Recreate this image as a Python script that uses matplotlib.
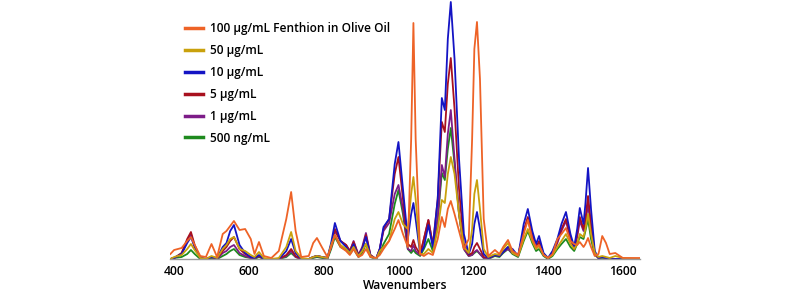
import numpy as np
import matplotlib
matplotlib.use("Agg")
import matplotlib.pyplot as plt

# wavenumber grid the spectra were read on
wavenumbers = [390, 400, 420, 435, 445, 455, 470, 485, 500, 515, 530, 540, 550, 560, 575,
               590, 605, 615, 627, 640, 660, 680, 700, 713, 725, 740, 760, 772, 782, 795,
               810, 820, 830, 845, 860, 870, 880, 893, 903, 913, 925, 940, 950, 960, 975,
               990, 1000, 1012, 1025, 1034, 1040, 1046, 1058, 1068, 1080, 1092, 1105, 1116,
               1124, 1132, 1140, 1150, 1162, 1175, 1188, 1197, 1203, 1210, 1218, 1228, 1240,
               1258, 1270, 1280, 1293, 1305, 1320, 1335, 1346, 1358, 1368, 1376, 1388, 1400,
               1412, 1425, 1436, 1448, 1460, 1470, 1478, 1485, 1495, 1500, 1507, 1515, 1525,
               1535, 1545, 1555, 1565, 1580, 1600, 1650]

# intensities (arbitrary units)
int_100ug = [5, 9, 11, 18, 22, 14, 3, 2, 15, 2, 25, 28, 33, 38, 29,
             30, 20, 5, 17, 3, 1, 8, 40, 67, 28, 2, 3, 16, 21, 12,
             2, 12, 24, 12, 8, 4, 10, 2, 4, 10, 2, 1, 4, 10, 18,
             30, 39, 25, 12, 120, 236, 120, 5, 3, 6, 4, 20, 42,
             32, 50, 58, 45, 28, 10, 20, 120, 210, 237, 180, 40, 3,
             9, 5, 12, 19, 8, 4, 25, 39, 20, 12, 14, 4, 1,
             5, 20, 25, 31, 18, 15, 14, 17, 12, 15, 21, 12, 3,
             5, 23, 16, 5, 6, 1, 1]
int_50ug = [0, 2, 4, 10, 15, 9, 1, 0, 3, 1, 10, 14, 20, 22, 10,
            8, 4, 2, 7, 1, 0, 1, 12, 27, 8, 1, 0, 2, 3, 2,
            1, 14, 24, 14, 10, 6, 12, 3, 8, 15, 3, 0, 8, 12, 18,
            40, 47, 35, 30, 65, 82, 60, 5, 5, 10, 6, 30, 59,
            56, 85, 102, 85, 45, 12, 6, 30, 65, 79, 50, 10, 2,
            5, 4, 10, 16, 6, 3, 20, 30, 18, 10, 13, 4, 1,
            4, 12, 18, 25, 15, 10, 15, 25, 22, 30, 45, 25, 6,
            2, 3, 2, 1, 3, 1, 0]
int_10ug = [0, 1, 5, 16, 22, 12, 1, 0, 2, 1, 12, 16, 28, 34, 14,
            6, 2, 1, 4, 0, 0, 0, 8, 20, 6, 0, 0, 2, 3, 2,
            1, 16, 36, 18, 12, 6, 15, 3, 10, 22, 3, 0, 10, 32, 40,
            95, 117, 70, 20, 45, 56, 40, 5, 12, 34, 12, 60, 161,
            149, 220, 257, 200, 100, 25, 5, 15, 35, 47, 30, 5, 1,
            4, 3, 7, 12, 10, 3, 35, 50, 28, 15, 23, 6, 1,
            8, 20, 35, 47, 25, 12, 30, 51, 35, 55, 91, 50, 8,
            1, 2, 1, 0, 0, 0, 0]
int_5ug = [0, 1, 6, 20, 27, 14, 1, 0, 2, 1, 8, 12, 18, 22, 10,
           5, 2, 1, 3, 0, 0, 0, 4, 10, 3, 0, 0, 2, 3, 2,
           1, 14, 30, 18, 14, 8, 17, 4, 10, 24, 4, 0, 10, 30, 40,
           85, 102, 60, 15, 12, 19, 12, 5, 20, 39, 14, 60, 137,
           127, 175, 201, 150, 70, 15, 4, 6, 12, 16, 10, 2, 1,
           4, 3, 7, 12, 8, 3, 28, 42, 25, 12, 18, 5, 1,
           6, 18, 30, 40, 22, 10, 25, 42, 30, 40, 63, 35, 6,
           1, 2, 1, 0, 0, 0, 0]
int_1ug = [0, 1, 5, 18, 25, 12, 1, 0, 2, 0, 6, 8, 12, 14, 6,
           3, 1, 1, 3, 0, 0, 0, 3, 8, 2, 0, 0, 2, 3, 2,
           1, 12, 28, 18, 14, 8, 18, 4, 12, 26, 4, 0, 10, 28, 36,
           65, 74, 50, 10, 8, 14, 8, 4, 20, 39, 14, 40, 94,
           82, 125, 149, 100, 45, 10, 3, 4, 7, 9, 5, 1, 0,
           4, 3, 7, 10, 6, 3, 28, 40, 22, 10, 17, 4, 1,
           5, 16, 28, 38, 20, 10, 22, 38, 28, 35, 55, 30, 5,
           1, 2, 1, 0, 0, 0, 0]
int_500ng = [0, 1, 2, 5, 9, 5, 0, 0, 1, 0, 3, 5, 8, 10, 4,
             2, 1, 0, 2, 0, 0, 0, 2, 6, 2, 0, 0, 1, 2, 1,
             0, 10, 22, 12, 9, 5, 10, 2, 6, 15, 2, 0, 6, 15, 25,
             55, 69, 45, 10, 6, 9, 6, 3, 10, 20, 8, 40, 86,
             79, 110, 131, 95, 45, 10, 3, 4, 6, 8, 5, 1, 0,
             3, 2, 6, 10, 5, 2, 18, 28, 16, 8, 10, 3, 0,
             3, 10, 15, 20, 12, 8, 15, 22, 20, 28, 40, 20, 4,
             1, 1, 1, 0, 0, 0, 0]

labels = ["100 µg/mL Fenthion in Olive Oil", "50 µg/mL", "10 µg/mL",
          "5 µg/mL", "1 µg/mL", "500 ng/mL"]
colors = ["#EE6327", "#C9A10C", "#1414C4", "#A8101E", "#7D1C88", "#1E8A1E"]
series = [int_100ug, int_50ug, int_10ug, int_5ug, int_1ug, int_500ng]

plt.rcParams['font.family'] = ['Open Sans', 'DejaVu Sans']

fig = plt.figure(figsize=(8, 3.01), dpi=100)
ax = fig.add_axes([170 / 800, 1 - 259 / 301, 470 / 800, 259 / 301])

handles = []
for i in range(len(series) - 1, -1, -1):
    line, = ax.plot(wavenumbers, series[i], color=colors[i], linewidth=1.3,
                    label=labels[i], solid_joinstyle='round')
    handles.insert(0, line)

ax.set_xlim(389, 1646)
ax.set_ylim(0, 259)
ax.set_xticks([400, 600, 800, 1000, 1200, 1400, 1600])
ax.set_yticks([])
ax.tick_params(axis='x', length=0, pad=4, labelsize=8.7)
for lbl in ax.get_xticklabels():
    lbl.set_fontweight('semibold')
for side in ['top', 'right', 'left']:
    ax.spines[side].set_visible(False)
ax.spines['bottom'].set_color('#9a9a9a')
ax.spines['bottom'].set_linewidth(1.0)
ax.set_xlabel('Wavenumbers', fontsize=8.7, fontweight='semibold', labelpad=1)

leg = ax.legend(handles=handles, loc='upper left', bbox_to_anchor=(0.0226, 0.934),
                frameon=False, borderaxespad=0, handlelength=1.45, handletextpad=0.65,
                labelspacing=0.75, prop={'size': 8.6, 'weight': 'semibold'})
for h in leg.get_lines():
    h.set_linewidth(2.5)

fig.savefig('out.png', dpi=100)
